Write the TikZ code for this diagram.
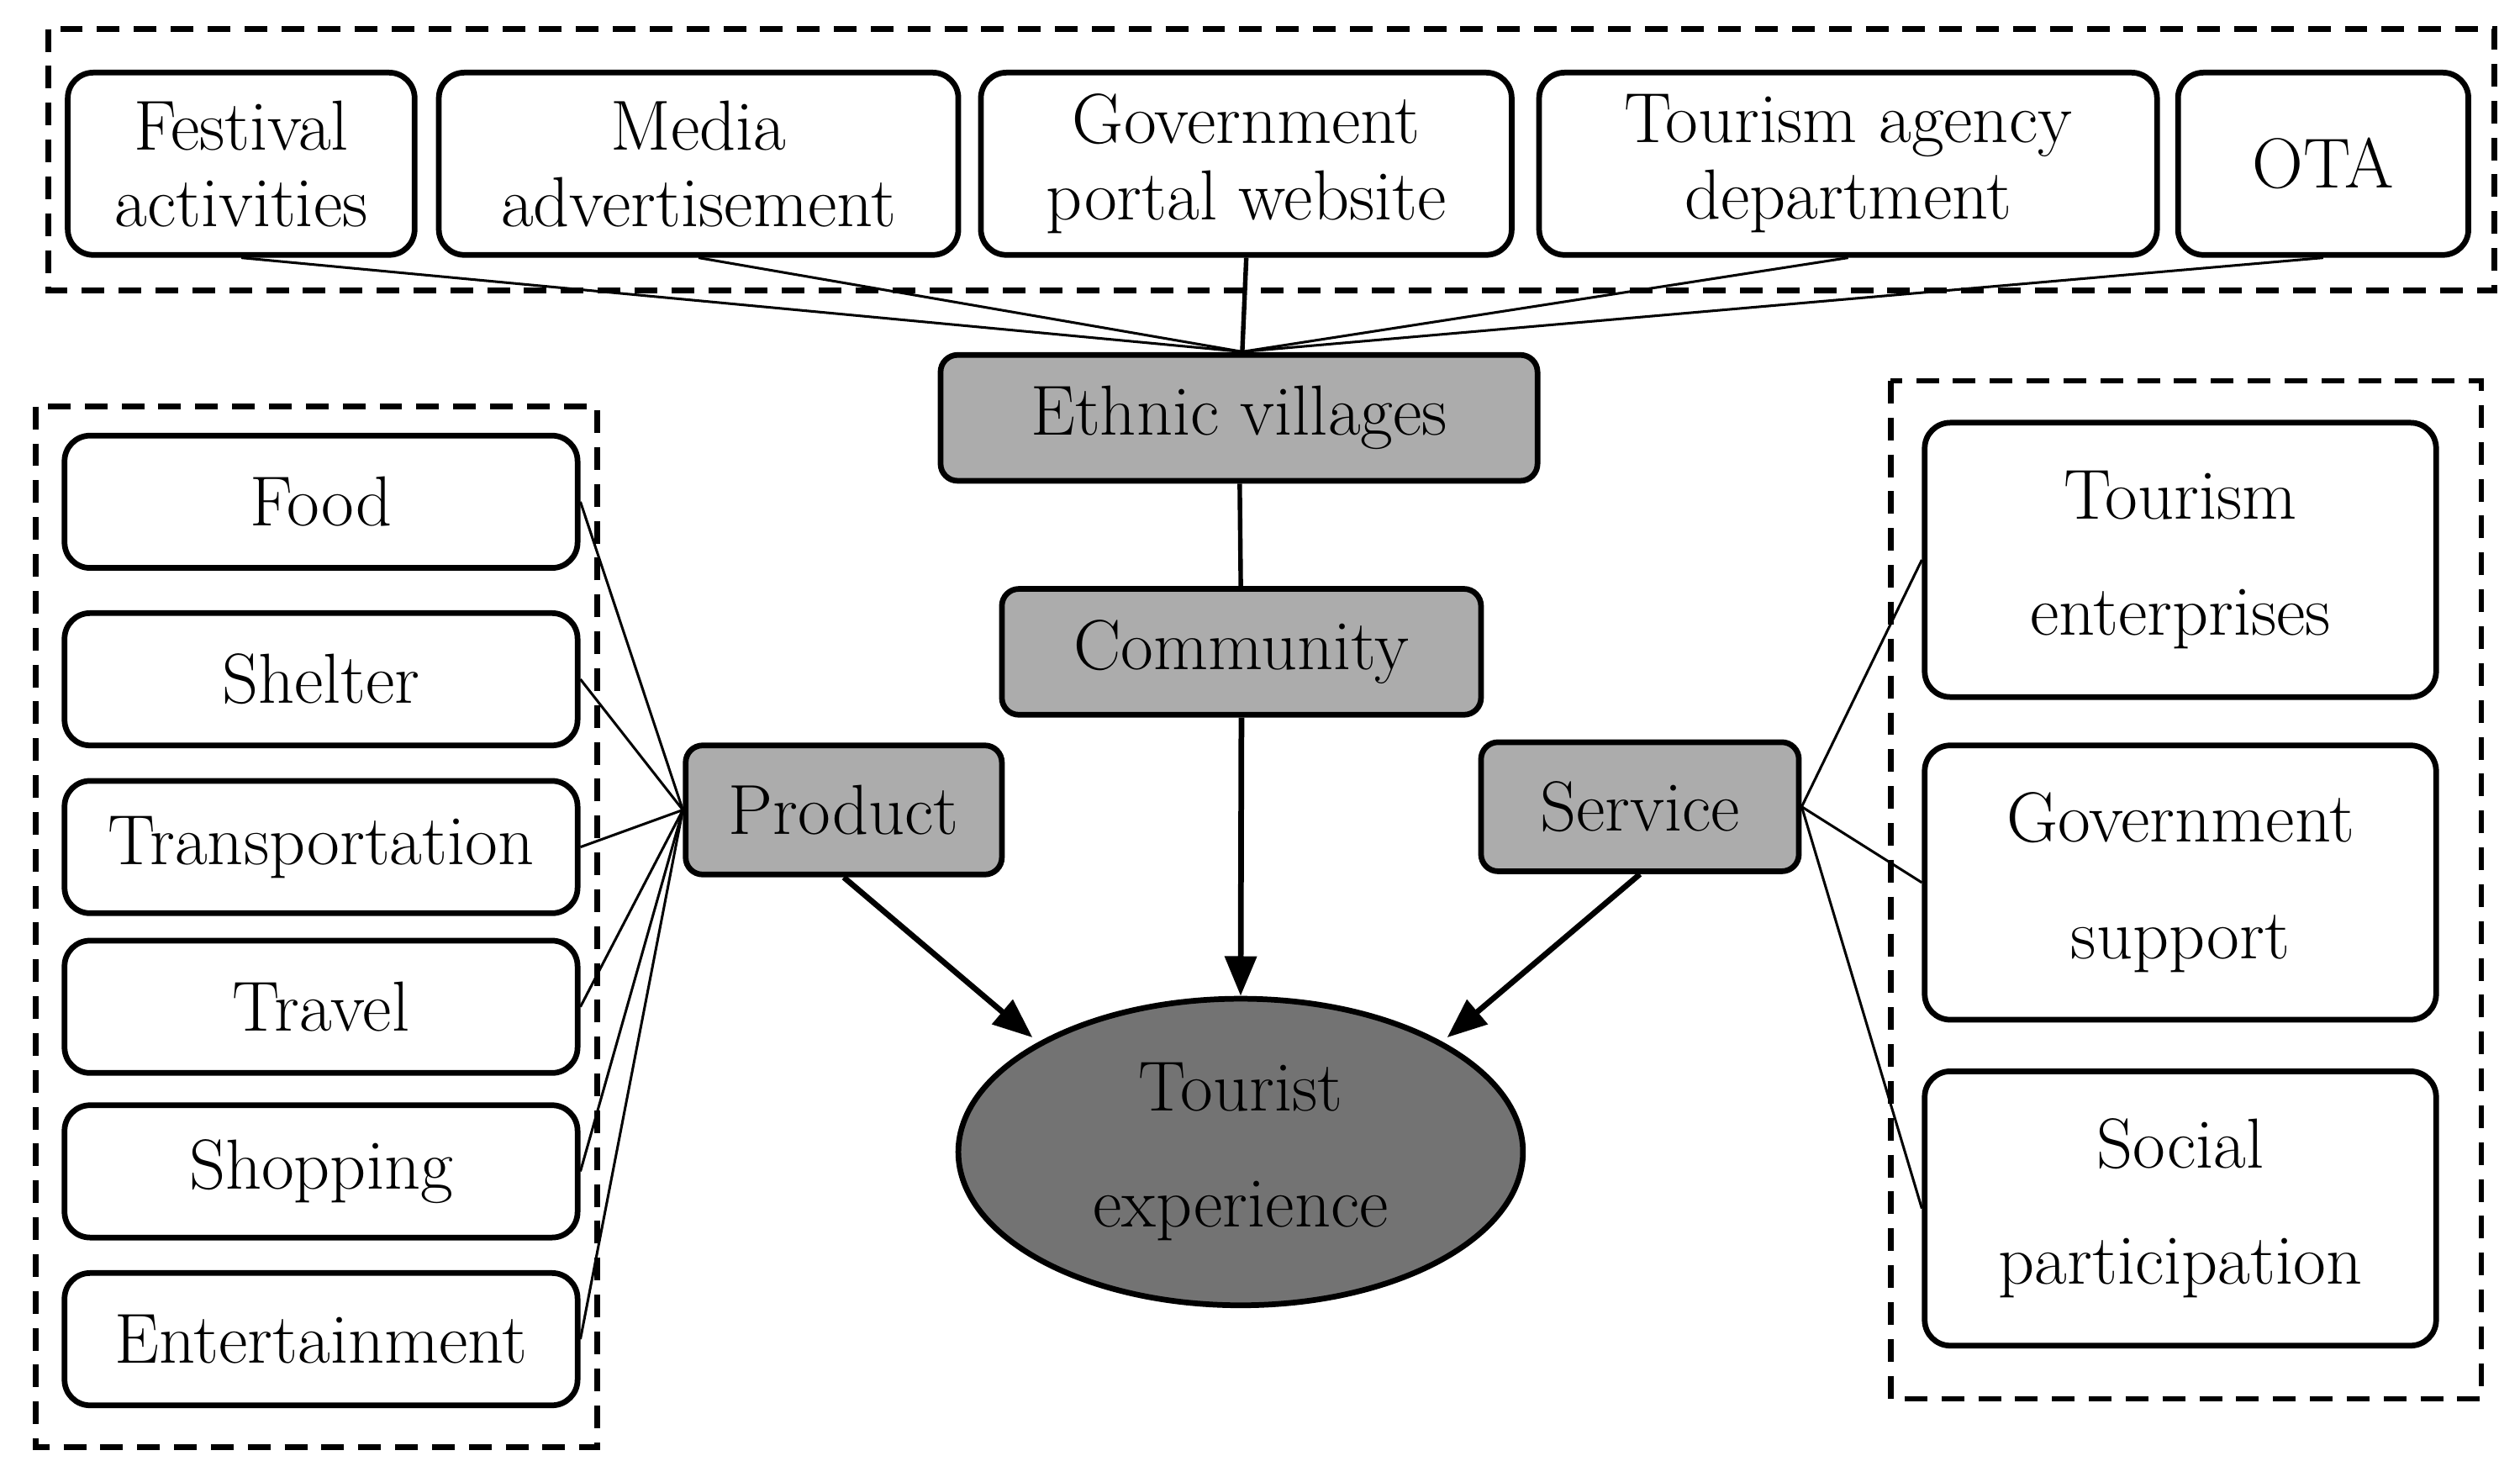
\documentclass[tikz,border=0pt]{standalone}
\usetikzlibrary{arrows.meta,shapes.geometric}
\begin{document}
\begin{tikzpicture}[x=0.02cm,y=-0.02cm,
 box/.style={draw,line width=2pt,rounded corners=9pt,fill=white,align=center,font=\fontsize{25}{27}\selectfont},
 gbox/.style={box,fill=gray!65,rounded corners=6pt},
 dbox/.style={draw,line width=2pt,dash pattern=on 8pt off 5pt},
 arr/.style={line width=2pt,-{Triangle[length=14pt,width=11pt]}},
 ln/.style={line width=0.9pt}]
\useasboundingbox (0,0) rectangle (1562,915);
\draw[dbox] (30,18) rectangle (1546,180);
\draw[dbox] (22,252) rectangle (370,897);
\draw[dbox] (1172,236) rectangle (1538,867);
\newcommand\mybox[7]{\node[#6,minimum width={(#3-#2)*0.02cm},minimum height={(#5-#4)*0.02cm},inner sep=0pt] (#1) at ({(#2+#3)/2},{(#4+#5)/2}) {#7};}
\mybox{fa}{42}{257}{45}{158}{box}{Festival\\activities}
\mybox{ma}{272}{594}{45}{158}{box}{Media\\advertisement}
\mybox{gp}{608}{937}{45}{158}{box}{Government\\portal website}
\mybox{ta}{954}{1337}{45}{158}{box}{Tourism agency\\department}
\mybox{ota}{1350}{1530}{45}{158}{box}{OTA}
\mybox{ev}{583}{953}{220}{298}{gbox}{Ethnic villages}
\mybox{cm}{621}{918}{365}{443}{gbox}{Community}
\mybox{pr}{425}{621}{462}{542}{gbox}{Product}
\mybox{sv}{918}{1115}{460}{540}{gbox}{Service}
\mybox{food}{40}{358}{270}{352}{box}{Food}
\mybox{shel}{40}{358}{380}{462}{box}{Shelter}
\mybox{tran}{40}{358}{484}{566}{box}{Transportation}
\mybox{trav}{40}{358}{583}{665}{box}{Travel}
\mybox{shop}{40}{358}{685}{767}{box}{Shopping}
\mybox{ent}{40}{358}{789}{871}{box}{Entertainment}
\mybox{te}{1193}{1510}{262}{432}{box}{Tourism\\[14pt]enterprises}
\mybox{gs}{1193}{1510}{462}{632}{box}{Government\\[14pt]support}
\mybox{sp}{1193}{1510}{664}{834}{box}{Social\\[14pt]participation}
\node[ellipse,draw,line width=2pt,fill=black!55,minimum width=350*0.02cm,minimum height=190*0.02cm,align=center,font=\fontsize{25}{27}\selectfont,inner sep=0pt] (te2) at (769,714) {Tourist\\[14pt]experience};
\coordinate (hub) at (770,218);
\foreach \n in {fa,ma,gp,ta,ota} \draw[ln] (\n.south) -- (hub);
\draw[line width=1.6pt] (gp.south) -- (hub);
\draw[line width=1.6pt] (ev) -- (cm);
\draw[arr] (cm.south) -- (te2.north);
\draw[arr] (pr.south) -- (640,643);
\draw[arr] (sv.south) -- (897,643);
\foreach \n in {food,shel,tran,trav,shop,ent} \draw[ln] (\n.east) -- (pr.west);
\foreach \n in {te,gs,sp} \draw[ln] (sv.east) -- (\n.west);
\end{tikzpicture}
\end{document}
